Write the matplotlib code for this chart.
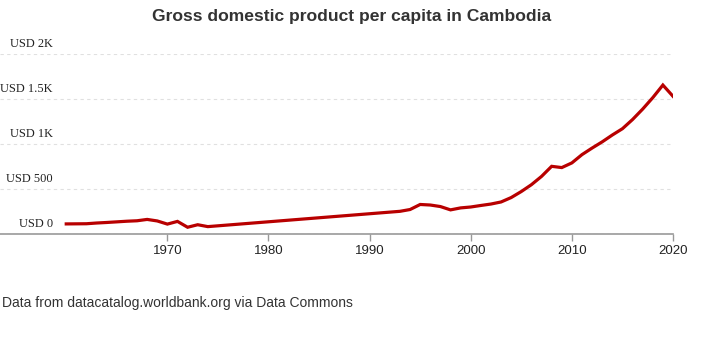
import matplotlib
matplotlib.use("Agg")
import matplotlib.pyplot as plt
import matplotlib.transforms as mtransforms

# ---------------------------------------------------------------------------- #
# DATA

years = [1960, 1961, 1962, 1963, 1964, 1965, 1966, 1967, 1968, 1969,
         1970, 1971, 1972, 1973, 1974,
         1993, 1994, 1995, 1996, 1997, 1998, 1999, 2000, 2001, 2002,
         2003, 2004, 2005, 2006, 2007, 2008, 2009, 2010, 2011, 2012,
         2013, 2014, 2015, 2016, 2017, 2018, 2019, 2020]
gdp_per_capita = [112, 113, 114, 122, 128, 135, 142, 147, 162, 145,
                  110, 140, 75, 103, 82,
                  252, 272, 328, 322, 305, 268, 290, 300, 317, 333,
                  356, 405, 472, 548, 640, 752, 738, 790, 882, 955,
                  1024, 1100, 1170, 1272, 1388, 1515, 1655, 1530]

x_ticks = [1970, 1980, 1990, 2000, 2010, 2020]
y_ticks = [0, 500, 1000, 1500, 2000]
y_labels = ["USD 0", "USD 500", "USD 1K", "USD 1.5K", "USD 2K"]

title = "Gross domestic product per capita in Cambodia"
source = "Data from datacatalog.worldbank.org via Data Commons"

# ---------------------------------------------------------------------------- #
# FIGURE

plt.rcParams["font.family"] = ["Liberation Sans", "DejaVu Sans"]

fig = plt.figure(figsize=(7.03, 3.52), dpi=100)
ax = fig.add_axes([0.0, 118 / 352, 673 / 703, 180 / 352])

ax.plot(years, gdp_per_capita, color="#b80000", linewidth=2.3,
        solid_joinstyle="miter", zorder=3)

ax.set_xlim(1953.45, 2020)
ax.set_ylim(0, 2000)

# gridlines
ax.set_yticks(y_ticks)
ax.yaxis.grid(True, color="#e0e0e0", linestyle=(0, (3, 3)), linewidth=0.8)
ax.tick_params(axis="y", length=0, labelleft=False)

# y labels sit just above each gridline
offset = mtransforms.offset_copy(ax.get_yaxis_transform(), fig=fig,
                                 x=0, y=10, units="dots")
for val, lab in zip(y_ticks, y_labels):
    ax.text(53 / 673, val, lab, transform=offset, ha="right", va="center",
            fontsize=8.9, family="Liberation Serif", color="#222222")

# x axis
ax.set_xticks(x_ticks)
ax.set_xticklabels([str(t) for t in x_ticks])
ax.tick_params(axis="x", length=5, width=1, color="#999999",
               labelsize=9.5, labelcolor="#222222", pad=3)

for side in ["top", "right", "left"]:
    ax.spines[side].set_visible(False)
ax.spines["bottom"].set_color("#999999")
ax.spines["bottom"].set_linewidth(1.2)

fig.text(352 / 703, 1 - 17 / 352, title, ha="center", va="center",
         fontsize=12.6, fontweight="bold", color="#333333")
fig.text(2 / 703, 1 - 303 / 352, source, ha="left", va="center",
         fontsize=10, color="#333333")

fig.savefig("out.png", dpi=100)
